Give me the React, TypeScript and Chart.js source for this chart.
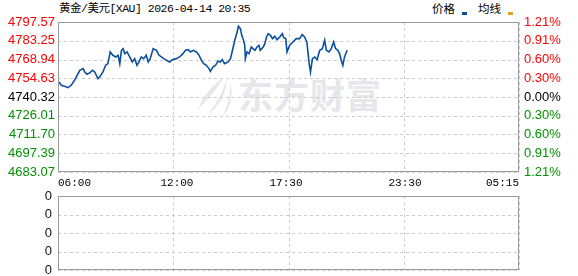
import React, { useEffect, useRef } from "react";
import { Chart, registerables } from "chart.js";

Chart.register(...registerables);

const titleText = "黄金/美元[XAU] 2026-04-14 20:35";
const legendLabels = ["价格", "均线"];
const legendColors = ["#0b4f9e", "#e0a32a"];
const watermarkText = "东方财富";

const sessionMinutes = 1395; // 06:00 -> 05:15 next day
const xTickMinutes = [0, 360, 690, 1050, 1395];
const xTickLabels = ["06:00", "12:00", "17:30", "23:30", "05:15"];
const prevClose = 4740.32;
const priceTicks = [4683.07, 4697.39, 4711.7, 4726.01, 4740.32, 4754.63, 4768.94, 4783.25, 4797.57];

const minuteOffsets = [
  3, 10, 20, 30, 40, 50, 58, 66, 76, 81, 88, 96, 104, 111, 121, 126, 136, 144, 151, 158,
  166, 175, 182, 187, 192, 197, 202, 209, 217, 225, 232, 239, 245, 252, 259, 267, 273, 279, 288, 298,
  306, 313, 320, 328, 338, 346, 358, 368, 378, 386, 394, 401, 409, 419, 427, 434, 441, 449, 457, 461,
  469, 477, 484, 491, 497, 504, 515, 522, 528, 535, 542, 546, 552, 556, 560, 565, 567, 572, 578, 585,
  590, 596, 602, 608, 612, 621, 626, 631, 636, 643, 649, 656, 663, 671, 679, 683, 689, 693, 697, 701,
  711, 721, 731, 739, 746, 753, 760, 764, 770, 777, 784, 792, 800, 807, 812, 820, 827, 834, 840, 847,
  852, 857, 862, 867, 875,
];
const priceValues = [
  4751.8, 4749.26, 4748.49, 4747.48, 4749.26, 4753.07, 4756.89, 4760.71, 4761.98, 4759.43,
  4757.65, 4758.67, 4760.71, 4759.43, 4754.35, 4755.62, 4759.43, 4764.52, 4765.79, 4774.7,
  4772.15, 4770.88, 4772.15, 4765.79, 4775.97, 4777.24, 4773.43, 4774.7, 4770.88, 4767.07,
  4769.61, 4764.52, 4767.07, 4770.88, 4769.61, 4772.15, 4767.07, 4769.61, 4777.24, 4775.97,
  4772.15, 4770.88, 4769.61, 4768.34, 4767.07, 4768.85, 4769.61, 4770.88, 4773.43, 4775.97,
  4776.48, 4774.7, 4775.97, 4774.7, 4772.15, 4768.34, 4765.79, 4764.52, 4761.98, 4759.94,
  4763.25, 4764.52, 4767.83, 4767.07, 4768.85, 4765.79, 4767.07, 4769.61, 4775.97, 4783.6,
  4789.96, 4794.29, 4792.51, 4787.42, 4784.87, 4779.78, 4769.61, 4774.7, 4773.43, 4778.51,
  4777.24, 4775.97, 4778.51, 4779.78, 4775.97, 4778.51, 4781.06, 4786.15, 4788.69, 4787.42,
  4784.87, 4786.66, 4784.11, 4786.15, 4788.69, 4785.64, 4784.87, 4774.7, 4777.24, 4779.78,
  4782.33, 4784.87, 4784.87, 4787.93, 4786.15, 4782.33, 4765.79, 4759.43, 4769.61, 4770.88,
  4768.85, 4775.97, 4777.24, 4783.6, 4775.97, 4774.7, 4777.24, 4782.33, 4777.24, 4775.97,
  4773.43, 4768.34, 4764.52, 4770.88, 4775.97,
];
const volumeTicks = [0, 1, 2, 3, 4];
const volumeValues: number[] = [];

const RED = "#ff0000";
const GREEN = "#009200";
const GRID = "#cccccc";

const framePlugin = {
  id: "frame",
  afterDraw(chart: any) {
    const { ctx, chartArea: a } = chart;
    ctx.save();
    ctx.strokeStyle = "#9a9a9a";
    ctx.lineWidth = 1;
    ctx.setLineDash([]);
    ctx.strokeRect(a.left + 0.5, a.top + 0.5, a.right - a.left - 1, a.bottom - a.top - 1);
    ctx.restore();
  },
};

const dashedGridPlugin = {
  id: "dashedGrid",
  beforeDatasetsDraw(chart: any) {
    const { ctx, chartArea: a, scales } = chart;
    ctx.save();
    ctx.strokeStyle = GRID;
    ctx.lineWidth = 1;
    ctx.setLineDash([3, 3]);
    const ys = scales.y;
    ys.ticks.forEach((t: any) => {
      const p = Math.round(ys.getPixelForValue(t.value)) + 0.5;
      ctx.beginPath();
      ctx.moveTo(a.left, p);
      ctx.lineTo(a.right, p);
      ctx.stroke();
    });
    const xs = scales.xGrid;
    xs.ticks.forEach((t: any) => {
      const p = Math.round(xs.getPixelForValue(t.value)) + 0.5;
      ctx.beginPath();
      ctx.moveTo(p, a.top);
      ctx.lineTo(p, a.bottom);
      ctx.stroke();
    });
    ctx.restore();
  },
};

const quarterTicks = (scale: any) => {
  const out: any[] = [];
  for (let i = 0; i <= 4; i++) out.push({ value: scale.min + ((scale.max - scale.min) * i) / 4 });
  scale.ticks = out;
};

const tickColor = (v: number) => (Math.abs(v - prevClose) < 0.005 ? "#000" : v > prevClose ? RED : GREEN);

const gridOnlyX = {
  type: "linear",
  position: "bottom",
  min: 0,
  max: sessionMinutes,
  ticks: { display: false },
  grid: { display: false, drawTicks: false },
  border: { display: false },
  afterBuildTicks: quarterTicks,
  afterFit: (s: any) => {
    s.height = 0;
    s.paddingLeft = 0;
    s.paddingRight = 0;
  },
};

export default function App() {
  const mainRef = useRef<HTMLCanvasElement>(null);
  const volRef = useRef<HTMLCanvasElement>(null);

  useEffect(() => {
    const points = minuteOffsets.map((m, i) => ({ x: m, y: priceValues[i] }));
    const yMin = priceTicks[0];
    const yMax = priceTicks[priceTicks.length - 1];
    const main = new Chart(mainRef.current!, {
      type: "line",
      data: {
        datasets: [
          {
            label: legendLabels[0],
            data: points,
            borderColor: legendColors[0],
            borderWidth: 1.6,
            pointRadius: 0,
            tension: 0,
            xAxisID: "x",
            yAxisID: "y",
          },
        ],
      },
      options: {
        animation: false,
        responsive: false,
        events: [],
        layout: { padding: { top: 22, left: 0, right: 0, bottom: 0 } },
        plugins: { legend: { display: false }, tooltip: { enabled: false }, title: { display: false } },
        scales: {
          x: {
            type: "linear",
            position: "bottom",
            min: 0,
            max: sessionMinutes,
            grid: { display: false, drawTicks: false },
            border: { display: false },
            afterBuildTicks: (s: any) => {
              s.ticks = xTickMinutes.map((v) => ({ value: v }));
            },
            afterFit: (s: any) => {
              s.height = 24;
              s.paddingLeft = 0;
              s.paddingRight = 0;
            },
            ticks: {
              autoSkip: false,
              maxRotation: 0,
              align: "inner",
              padding: 4,
              color: "#000",
              font: { family: "'Liberation Mono', 'DejaVu Sans Mono', monospace", size: 11 },
              callback: (_v: any, i: number) => xTickLabels[i],
            },
          },
          xGrid: gridOnlyX,
          y: {
            type: "linear",
            position: "left",
            min: yMin,
            max: yMax,
            grid: { display: false, drawTicks: false },
            border: { display: false },
            afterBuildTicks: (s: any) => {
              s.ticks = priceTicks.map((v) => ({ value: v }));
            },
            afterFit: (s: any) => {
              s.width = 58;
              s.paddingTop = 0;
              s.paddingBottom = 0;
            },
            ticks: {
              autoSkip: false,
              padding: 3,
              font: { family: "'Liberation Sans', Arial, sans-serif", size: 13 },
              color: (c: any) => tickColor(c.tick.value),
              callback: (v: any) => Number(v).toFixed(2),
            },
          },
          y2: {
            type: "linear",
            position: "right",
            min: yMin,
            max: yMax,
            grid: { display: false, drawTicks: false },
            border: { display: false },
            afterBuildTicks: (s: any) => {
              s.ticks = priceTicks.map((v) => ({ value: v }));
            },
            afterFit: (s: any) => {
              s.width = 59;
              s.paddingTop = 0;
              s.paddingBottom = 0;
            },
            ticks: {
              autoSkip: false,
              padding: 5,
              font: { family: "'Liberation Sans', Arial, sans-serif", size: 13 },
              color: (c: any) => tickColor(c.tick.value),
              callback: (v: any) => ((Math.abs(Number(v) - prevClose) / prevClose) * 100).toFixed(2) + "%",
            },
          },
        },
      },
      plugins: [dashedGridPlugin, framePlugin],
    } as any);

    const vol = new Chart(volRef.current!, {
      type: "line",
      data: {
        datasets: [
          {
            label: "volume",
            data: volumeValues,
            borderColor: legendColors[0],
            pointRadius: 0,
            xAxisID: "xGrid",
            yAxisID: "y",
          },
        ],
      },
      options: {
        animation: false,
        responsive: false,
        events: [],
        layout: { padding: { top: 16, left: 0, right: 59, bottom: 6 } },
        plugins: { legend: { display: false }, tooltip: { enabled: false } },
        scales: {
          xGrid: gridOnlyX,
          y: {
            type: "linear",
            position: "left",
            min: volumeTicks[0],
            max: volumeTicks[volumeTicks.length - 1],
            grid: { display: false, drawTicks: false },
            border: { display: false },
            afterBuildTicks: (s: any) => {
              s.ticks = volumeTicks.map((v) => ({ value: v }));
            },
            afterFit: (s: any) => {
              s.width = 58;
              s.paddingTop = 0;
              s.paddingBottom = 0;
            },
            ticks: {
              autoSkip: false,
              padding: 6,
              color: "#111",
              font: { family: "'Liberation Sans', Arial, sans-serif", size: 13 },
              callback: () => "0",
            },
          },
        },
      },
      plugins: [dashedGridPlugin, framePlugin],
    } as any);

    return () => {
      main.destroy();
      vol.destroy();
    };
  }, []);

  const headerText = {
    position: "absolute" as const,
    top: 1,
    fontFamily: "'Noto Sans CJK SC', sans-serif",
    fontSize: 11.5,
    lineHeight: "15px",
    color: "#000",
    whiteSpace: "nowrap" as const,
  };

  return (
    <div
      style={{
        position: "fixed",
        left: 0,
        top: 0,
        width: 578,
        height: 276,
        background: "#fff",
        overflow: "hidden",
      }}
    >
      <svg
        width={40}
        height={44}
        viewBox="0 0 40 44"
        style={{ position: "absolute", left: 194, top: 75 }}
      >
        <path d="M30 2 C22 8 10 18 4 34 C12 26 20 18 30 2 Z" fill="#e6e6eb" />
        <path d="M33 4 C30 14 24 26 14 40 C24 32 32 20 33 4 Z" fill="#e6e6eb" />
        <path d="M36 8 C37 18 34 30 28 42 C36 34 40 20 36 8 Z" fill="#e6e6eb" />
      </svg>
      <div
        style={{
          position: "absolute",
          left: 238,
          top: 73,
          fontFamily: "'Noto Sans CJK SC', sans-serif",
          fontWeight: 700,
          fontSize: 35,
          letterSpacing: 1,
          color: "#e6e6eb",
          lineHeight: "42px",
          whiteSpace: "nowrap",
        }}
      >
        {watermarkText}
      </div>
      <div
        style={{
          position: "absolute",
          left: 59,
          top: 1,
          fontFamily: "'Liberation Mono', 'Noto Sans CJK SC', monospace",
          fontSize: 11.5,
          letterSpacing: -0.5,
          lineHeight: "15px",
          color: "#000",
          whiteSpace: "nowrap",
        }}
      >
        {titleText}
      </div>
      <div style={{ ...headerText, left: 432 }}>{legendLabels[0]}</div>
      <div style={{ position: "absolute", left: 462, top: 12, width: 5, height: 3, background: legendColors[0] }} />
      <div style={{ ...headerText, left: 478 }}>{legendLabels[1]}</div>
      <div style={{ position: "absolute", left: 508, top: 12, width: 5, height: 3, background: legendColors[1] }} />
      <canvas ref={mainRef} width={578} height={196} style={{ position: "absolute", left: 0, top: 0 }} />
      <canvas ref={volRef} width={578} height={96} style={{ position: "absolute", left: 0, top: 180 }} />
    </div>
  );
}
